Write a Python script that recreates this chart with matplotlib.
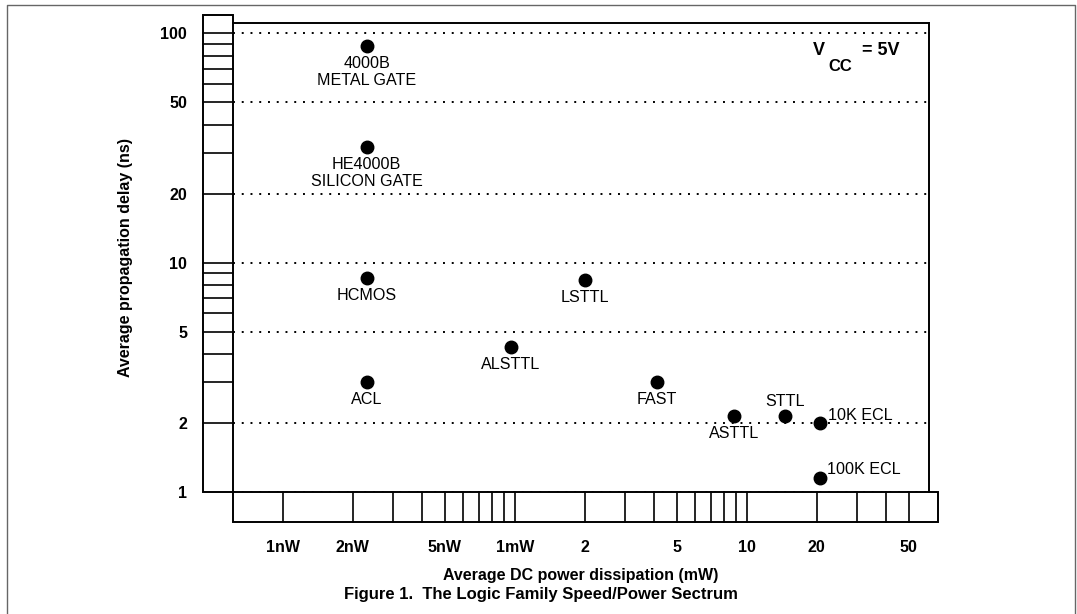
"""Logic family speed/power spectrum (datasheet Figure 1) redrawn with matplotlib."""

import matplotlib

matplotlib.use("Agg")
import matplotlib.pyplot as plt
from matplotlib.lines import Line2D
from matplotlib.ticker import NullLocator

plt.rcParams["font.family"] = ["Liberation Sans", "DejaVu Sans"]

# logic families
families = [
    "4000B\nMETAL GATE",
    "HE4000B\nSILICON GATE",
    "HCMOS",
    "ACL",
    "ALSTTL",
    "LSTTL",
    "FAST",
    "ASTTL",
    "STTL",
    "10K ECL",
    "100K ECL",
]
power = [2.3, 2.3, 2.3, 2.3, 0.96, 2.0, 4.1, 8.8, 14.6, 20.7, 20.7]
power_unit = ["nW", "nW", "nW", "nW", "mW", "mW", "mW", "mW", "mW", "mW", "mW"]
delay_ns = [88, 32, 8.6, 3.0, 4.3, 8.4, 3.0, 2.13, 2.13, 2.0, 1.15]

# the power scale runs one nW decade, then carries on in mW ("1mW" sits where 10nW would)
x_tick_pos = [1, 2, 5, 10, 20, 50, 100, 200, 500]
x_tick_labels = ["1nW", "2nW", "5nW", "1mW", "2", "5", "10", "20", "50"]
y_ticks = [1, 2, 5, 10, 20, 50, 100]
y_tick_labels = ["1", "2", "5", "10", "20", "50", "100"]
x_ruler = list(range(1, 11)) + list(range(20, 101, 10)) + [200, 300, 400, 500]
y_ruler = list(range(2, 11)) + list(range(20, 101, 10))


def scale_pos(value, unit):
    return value if unit == "nW" else value * 10


# label placement per point: (dx px, dy px, ha, va)
below = (0, -10, "center", "top")
label_place = [below] * 8 + [
    (0, 7, "center", "bottom"),
    (8, 3, "left", "baseline"),
    (7, 4, "left", "baseline"),
]

W, H = 1077, 614
fig = plt.figure(figsize=(W / 100, H / 100), dpi=100)
ax = fig.add_axes([233 / W, 1 - 491.7 / H, 696 / W, 468.4 / H])
ax.set_xscale("log")
ax.set_yscale("log")

xlim = (0.61, 611)
ylim = (1, 110.6)
x_ruler_end = 668
y_ruler_top = 120.5
rw = 30 / 696
rh = 30.5 / 468.4
lw_box = 1.4
lw_rule = 1.2

for s in ax.spines.values():
    s.set_linewidth(lw_box)

ax.grid(axis="y", which="major", color="black", linestyle=(0, (1, 3.5)), linewidth=1.4)
ax.set_axisbelow(True)

# left ruler (y scale)
yt = ax.get_yaxis_transform()
ax.plot([0, -rw, -rw, 0, 0], [1, 1, y_ruler_top, y_ruler_top, ylim[1]],
        transform=yt, color="black", lw=lw_box, clip_on=False, solid_joinstyle="miter")
for v in y_ruler:
    ax.plot([-rw, 0], [v, v], transform=yt, color="black", lw=lw_rule, clip_on=False)

# bottom ruler (x scale)
xt = ax.get_xaxis_transform()
ax.plot([xlim[0], xlim[0], x_ruler_end, x_ruler_end, xlim[1]], [0, -rh, -rh, 0, 0],
        transform=xt, color="black", lw=lw_box, clip_on=False, solid_joinstyle="miter")
for u in x_ruler:
    ax.plot([u, u], [-rh, 0], transform=xt, color="black", lw=lw_rule, clip_on=False)

xs = [scale_pos(p, u) for p, u in zip(power, power_unit)]
ax.plot(xs, delay_ns, "o", color="black", ms=9, ls="none", clip_on=False, zorder=4)

for name, x, y, (dx, dy, ha, va) in zip(families, xs, delay_ns, label_place):
    ax.annotate(name, (x, y), xytext=(dx, dy), textcoords="offset pixels",
                ha=ha, va=va, fontsize=11.6, linespacing=1.15)

ax.set_xticks(x_tick_pos, x_tick_labels, fontsize=11.5, fontweight="bold")
ax.set_yticks(y_ticks, y_tick_labels, fontsize=11.5, fontweight="bold")
ax.xaxis.set_minor_locator(NullLocator())
ax.yaxis.set_minor_locator(NullLocator())
ax.tick_params(axis="both", which="both", length=0)
ax.tick_params(axis="y", pad=33)
ax.tick_params(axis="x", pad=35)

ax.set_xlim(*xlim)
ax.set_ylim(*ylim)

ax.set_xlabel("Average DC power dissipation (mW)", fontsize=11.5, fontweight="bold")
ax.xaxis.set_label_coords(0.5, -0.163)
ax.set_ylabel("Average propagation delay (ns)", fontsize=11.5, fontweight="bold")
ax.yaxis.set_label_coords(-0.144, 0.5)

fig.text(813 / W, 1 - 55 / H, "V", ha="left", va="baseline", fontsize=13, fontweight="bold")
fig.text(828 / W, 1 - 71 / H, "CC", ha="left", va="baseline", fontsize=12, fontweight="bold")
fig.text(862 / W, 1 - 55 / H, "= 5V", ha="left", va="baseline", fontsize=13, fontweight="bold")

fig.text(541 / W, 1 - 594 / H, "Figure 1.  The Logic Family Speed/Power Sectrum",
         ha="center", va="center", fontsize=12, fontweight="bold")

# thin page frame around the figure
fig.add_artist(Line2D([6.7 / W, 6.7 / W, 1075 / W, 1075 / W], [0, 1 - 5 / H, 1 - 5 / H, 0],
                      transform=fig.transFigure, color="#666666", lw=1))

fig.savefig("out.png", dpi=100)
plt.close(fig)
